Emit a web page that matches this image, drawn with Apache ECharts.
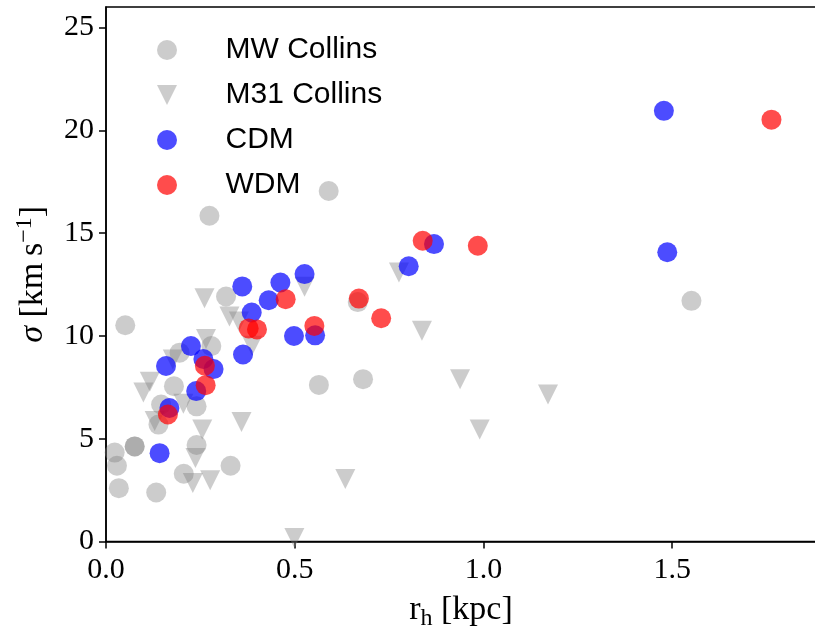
<!DOCTYPE html>
<html>
<head>
<meta charset="utf-8">
<script src="https://cdn.jsdelivr.net/npm/echarts@6/dist/echarts.min.js"></script>
<style>
  html, body { margin: 0; padding: 0; background: #fff; }
  #chart { width: 815px; height: 628px; }
</style>
</head>
<body>
<div id="chart"></div>
<script>
// Half-light radius r_h [kpc] and velocity dispersion sigma [km/s]
const mwCollins = [
  [0.590, 17.05], [0.274, 15.85], [0.051, 10.52], [0.318, 11.92], [0.279, 9.51],
  [0.195, 9.19], [0.180, 7.56], [0.564, 7.62], [0.681, 7.90], [0.667, 11.65],
  [1.551, 11.71], [0.146, 6.67], [0.240, 6.58], [0.139, 5.69], [0.023, 4.33],
  [0.076, 4.63], [0.076, 4.63], [0.240, 4.70], [0.029, 3.69], [0.330, 3.69],
  [0.206, 3.30], [0.034, 2.60], [0.133, 2.39]
];
const m31Collins = [
  [0.499, 0.17], [0.634, 3.05], [0.276, 2.98], [0.230, 2.85], [0.237, 4.07],
  [0.255, 5.45], [0.359, 5.82], [0.129, 5.86], [0.205, 6.70], [0.099, 7.25],
  [0.116, 7.78], [0.177, 8.86], [0.265, 9.85], [0.261, 11.84], [0.327, 10.95],
  [0.352, 10.70], [0.387, 9.53], [0.526, 12.40], [0.776, 13.09], [0.837, 10.25],
  [0.938, 7.89], [0.990, 5.45], [1.171, 7.16]
];
const cdm = [
  [1.478, 20.95], [1.487, 14.07], [0.869, 14.47], [0.802, 13.39], [0.526, 13.01],
  [0.462, 12.60], [0.361, 12.41], [0.431, 11.74], [0.386, 11.14], [0.498, 10.00],
  [0.554, 10.03], [0.363, 9.10], [0.225, 9.51], [0.159, 8.54], [0.258, 8.88],
  [0.285, 8.39], [0.239, 7.32], [0.168, 6.50], [0.142, 4.30]
];
const wdm = [
  [1.763, 20.52], [0.985, 14.39], [0.839, 14.63], [0.670, 11.82], [0.476, 11.79],
  [0.729, 10.86], [0.552, 10.49], [0.378, 10.37], [0.400, 10.32], [0.262, 8.55],
  [0.264, 7.61], [0.164, 6.18]
];
const xTicks = [0, 0.5, 1.0, 1.5];
const yTicks = [0, 5, 10, 15, 20, 25];

const SERIF = '"Liberation Serif", "Times New Roman", serif';
const SANS = '"Liberation Sans", Arial, sans-serif';
const downTriangle = 'path://M0,0 L2,0 L1,2 Z';

const chart = echarts.init(document.getElementById('chart'), null, { renderer: 'canvas' });

function scatter(name, data, color, symbol) {
  return {
    name: name,
    type: 'scatter',
    data: data,
    symbol: symbol,
    symbolSize: 20,
    itemStyle: { color: color, opacity: 1 },
    emphasis: { disabled: true },
    animation: false
  };
}

chart.setOption({
  animation: false,
  backgroundColor: '#fff',
  grid: {
    left: 106, top: 7, width: 710, height: 534.6,
    outerBoundsMode: 'none',
    containLabel: false,
    show: true, borderColor: '#000', borderWidth: 1.5, backgroundColor: 'transparent'
  },
  legend: {
    orient: 'vertical',
    left: 157, top: 35,
    padding: 0,
    itemWidth: 107, itemHeight: 20,
    itemGap: 15,
    selectedMode: false,
    textStyle: { fontFamily: SANS, fontSize: 30, color: '#000', lineHeight: 30 },
    data: ['MW Collins', 'M31 Collins', 'CDM', 'WDM']
  },
  xAxis: {
    type: 'value',
    min: 0, max: 1.881,
    interval: 0.5,
    name: '{r|r}{sub|h} [kpc]',
    nameLocation: 'middle',
    nameGap: 28,
    nameTextStyle: {
      fontFamily: SERIF, fontSize: 34, color: '#000', lineHeight: 40,
      rich: {
        r: { fontFamily: SERIF, fontSize: 34, lineHeight: 40 },
        sub: { fontFamily: SERIF, fontSize: 24, lineHeight: 24, verticalAlign: 'bottom' }
      }
    },
    splitLine: { show: false },
    axisLine: { show: true, onZero: false, lineStyle: { color: '#000', width: 1.5 } },
    axisTick: { show: true, inside: false, length: 7, lineStyle: { color: '#000', width: 1.5 }, customValues: xTicks },
    axisLabel: {
      fontFamily: SERIF, fontSize: 30, color: '#000', margin: 14,
      customValues: xTicks,
      formatter: v => v.toFixed(1)
    }
  },
  yAxis: {
    type: 'value',
    min: 0, max: 26,
    interval: 5,
    name: '{it|σ} [km\u2009s{sup|\u22121}]',
    nameLocation: 'middle',
    nameRotate: 90,
    nameGap: 43,
    nameTextStyle: {
      fontFamily: SERIF, fontSize: 34, color: '#000', lineHeight: 40,
      rich: {
        it: { fontFamily: SERIF, fontSize: 34, fontStyle: 'italic', lineHeight: 40 },
        sup: { fontFamily: SERIF, fontSize: 24, lineHeight: 24, verticalAlign: 'top' }
      }
    },
    splitLine: { show: false },
    axisLine: { show: true, onZero: false, lineStyle: { color: '#000', width: 1.5 } },
    axisTick: { show: true, inside: false, length: 7, lineStyle: { color: '#000', width: 1.5 }, customValues: yTicks },
    axisLabel: {
      fontFamily: SERIF, fontSize: 30, color: '#000', margin: 12,
      customValues: yTicks
    }
  },
  series: [
    scatter('MW Collins', mwCollins, 'rgba(128,128,128,0.4)', 'circle'),
    scatter('M31 Collins', m31Collins, 'rgba(128,128,128,0.4)', downTriangle),
    scatter('CDM', cdm, 'rgba(0,0,255,0.7)', 'circle'),
    scatter('WDM', wdm, 'rgba(255,0,0,0.7)', 'circle')
  ]
});
</script>
</body>
</html>
